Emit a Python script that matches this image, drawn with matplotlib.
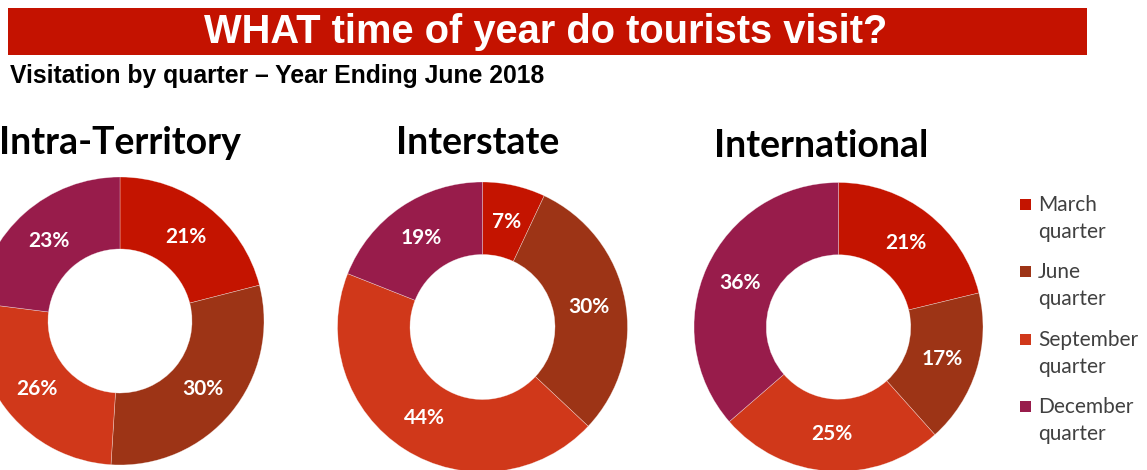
import numpy as np
import matplotlib
matplotlib.use("Agg")
import matplotlib.pyplot as plt
from matplotlib.patches import Rectangle

W, H = 1147, 470
DPI = 100

# Quarter categories and shares (%) for each visitor market
quarters = ["March quarter", "June quarter", "September quarter", "December quarter"]
colors = ["#C41400", "#9D3416", "#D0381A", "#981C4B"]

markets = ["Intra-Territory", "Interstate", "International"]
intra_territory = [21, 30, 26, 23]
interstate = [7, 30, 44, 19]
international = [21, 17, 25, 36]
shares = [intra_territory, interstate, international]

title_text = "WHAT time of year do tourists visit?"
subtitle_text = "Visitation by quarter \u2013 Year Ending June 2018"

fig = plt.figure(figsize=(W / DPI, H / DPI), dpi=DPI)
fig.patch.set_facecolor("white")


def fx(x):
    return x / W


def fy(y):
    return 1 - y / H


# Red banner with the headline
fig.add_artist(Rectangle((fx(8), fy(55)), fx(1087) - fx(8), fy(8) - fy(55),
                         transform=fig.transFigure, facecolor="#C41200",
                         edgecolor="none"))
fig.text(fx(546), fy(32), title_text, color="white", fontsize=28.7,
         fontweight="bold", family="Liberation Sans", ha="center", va="center")
fig.text(fx(10), fy(76), subtitle_text, color="black", fontsize=17.8,
         fontweight="bold", family="Liberation Sans", ha="left", va="center")

# Donut geometry in pixels: centre x, centre y, outer radius
donuts = [(120, 321, 144), (482.5, 327, 145), (838.5, 327, 144.5)]
title_pos = [(120, 143), (478, 143), (821, 146)]

for vals, name, (cx, cy, r), (tx, ty) in zip(shares, markets, donuts, title_pos):
    ax = fig.add_axes([fx(cx - r), fy(cy + r), 2 * r / W, 2 * r / H])
    wedges, _ = ax.pie(vals, colors=colors, startangle=90, counterclock=False,
                       radius=1.0, wedgeprops=dict(width=0.5,
                                                   edgecolor=(1, 1, 1, 0.5),
                                                   linewidth=0.4))
    ax.set_xlim(-1, 1)
    ax.set_ylim(-1, 1)
    ax.set_aspect("equal")
    ax.axis("off")
    for w, v in zip(wedges, vals):
        ang = np.deg2rad((w.theta1 + w.theta2) / 2)
        ax.text(0.75 * np.cos(ang), 0.74 * np.sin(ang), f"{v}%", color="white",
                fontsize=15, fontweight="bold", family="Lato",
                ha="center", va="center")
    fig.text(fx(tx), fy(ty), name, color="black", fontsize=27,
             fontweight="bold", family="Lato", ha="center", va="center")

# Legend
leg_y = [205, 272, 340, 407]
for q, c, y in zip(quarters, colors, leg_y):
    fig.add_artist(Rectangle((fx(1020), fy(y + 5)), 11 / W, 11 / H,
                             transform=fig.transFigure, facecolor=c,
                             edgecolor="none"))
    first, second = q.split(" ")
    fig.text(fx(1038), fy(y), first, color="#404040", fontsize=15,
             family="Lato", ha="left", va="center")
    fig.text(fx(1038), fy(y + 27), second, color="#404040", fontsize=15,
             family="Lato", ha="left", va="center")

fig.savefig("out.png", dpi=DPI)
